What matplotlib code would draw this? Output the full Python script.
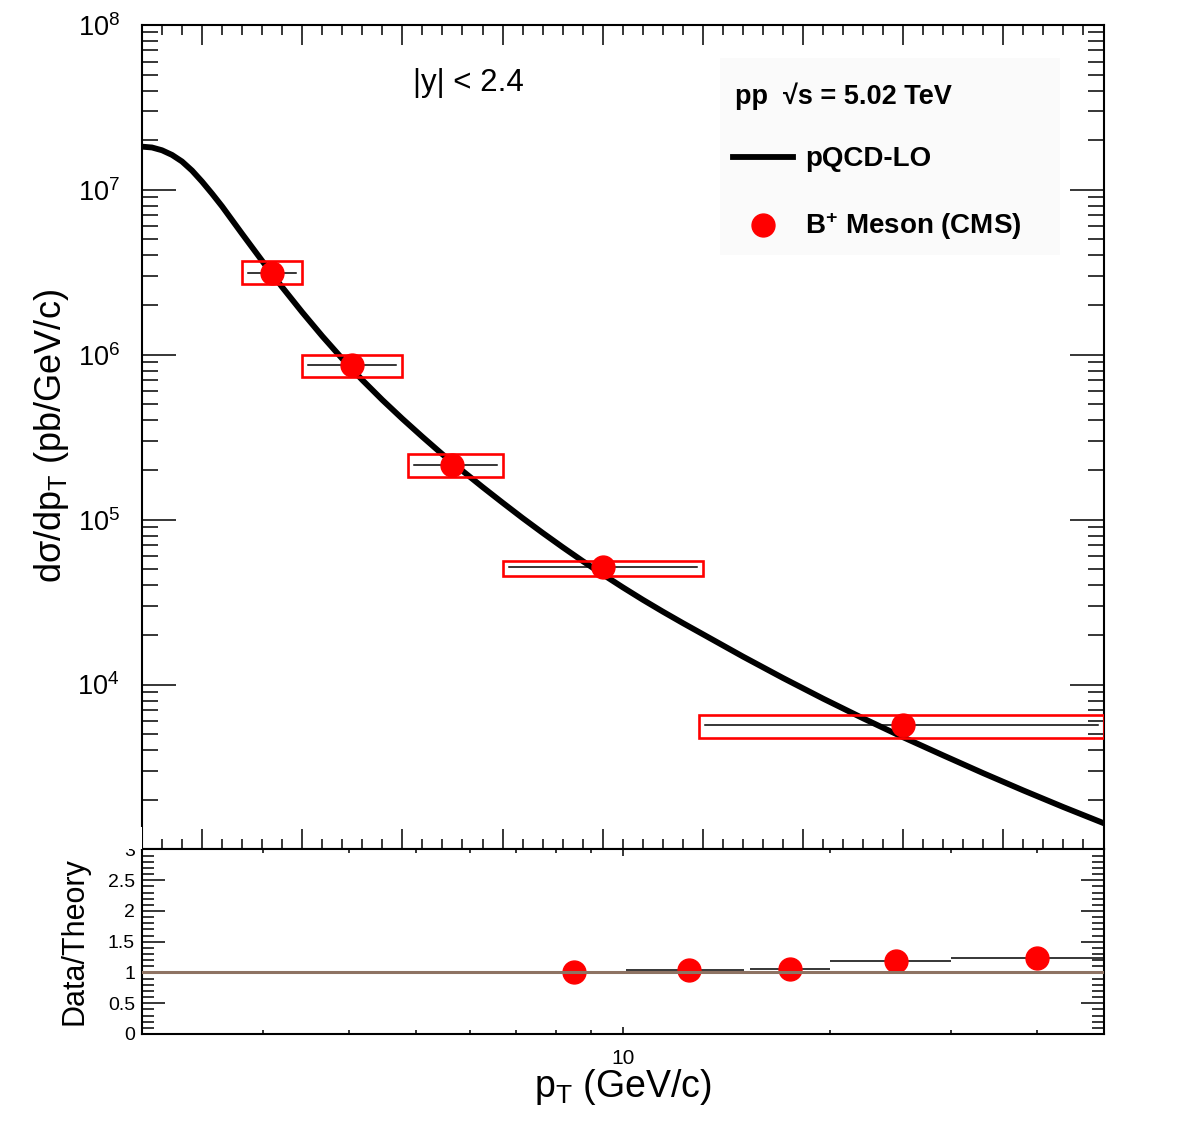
import numpy as np
import matplotlib
matplotlib.use('Agg')
import matplotlib.pyplot as plt
from matplotlib.patches import Rectangle
from matplotlib.ticker import MultipleLocator, FixedLocator, FixedFormatter, NullFormatter, LogLocator

# --- font setup (ROOT look, Helvetica-like) ---
plt.rcParams['font.family'] = ['Liberation Sans', 'DejaVu Sans']
plt.rcParams['mathtext.fontset'] = 'custom'
plt.rcParams['mathtext.rm'] = 'Liberation Sans'
plt.rcParams['mathtext.it'] = 'Liberation Sans:italic'
plt.rcParams['mathtext.bf'] = 'Liberation Sans:bold'

# --- theory curve (pQCD-LO) ---
theory_pt = [2, 2.5, 3, 3.5, 4, 4.5, 5, 5.5, 6, 7, 8, 9, 10, 11, 12, 13, 14, 15, 16, 17, 18,
             19, 20, 21, 22, 23, 24, 25, 26, 27, 28, 29, 30, 32, 34, 36, 38, 40, 42, 44, 46,
             48, 50]
theory_xsec = [1.828e7, 1.807e7, 1.738e7, 1.629e7, 1.486e7, 1.309e7, 1.122e7, 9.48e6, 7.94e6,
               5.41e6, 3.71e6, 2.57e6, 1.811e6, 1.297e6, 9.46e5, 7.03e5, 5.32e5, 4.09e5,
               3.18e5, 2.49e5, 1.977e5, 1.578e5, 1.268e5, 1.023e5, 8.32e4, 6.81e4, 5.61e4,
               4.66e4, 3.89e4, 3.27e4, 2.77e4, 2.36e4, 2.02e4, 1.479e4, 1.096e4, 8.22e3,
               6.24e3, 4.79e3, 3.72e3, 2.90e3, 2.28e3, 1.807e3, 1.445e3]

# --- B+ meson data (CMS) ---
pt_c = [8.5, 12.5, 17.5, 25, 40]
pt_lo = [7, 10, 15.3, 20, 29.8]
pt_hi = [10, 15, 20, 30, 50]
xsec = [3.15e6, 8.7e5, 2.15e5, 5.15e4, 5.65e3]
sys_lo = [2.69e6, 7.3e5, 1.82e5, 4.58e4, 4.75e3]
sys_hi = [3.68e6, 1.0e6, 2.5e5, 5.65e4, 6.52e3]

# --- data / theory ---
ratio = [1.0, 1.04, 1.05, 1.18, 1.24]
ratio_lo = [7, 10.1, 15.3, 20, 30]
ratio_hi = [10, 15, 20, 30, 50]

RED = '#ff0000'
BROWN = '#8e7363'

fig = plt.figure(figsize=(11.82, 11.34), dpi=100)
ax = fig.add_axes([0.1201, 0.2509, 0.8135, 0.7271])
axr = fig.add_axes([0.1201, 0.0882, 0.8135, 0.1627])

# ---------------- top panel ----------------
ax.set_yscale('log')
ax.set_xlim(2, 50)
ax.set_ylim(1e3, 1e8)

ax.plot(theory_pt, theory_xsec, color='black', lw=4.2, zorder=2, solid_joinstyle='round')
for lo, hi, ylo, yhi, y in zip(pt_lo, pt_hi, sys_lo, sys_hi, xsec):
    ax.add_patch(Rectangle((lo, ylo), hi - lo, yhi - ylo, fill=False,
                           edgecolor=RED, lw=1.9, zorder=3))
    ax.plot([lo + 0.3, hi - 0.3], [y, y], color='black', lw=1.1, zorder=3)
ax.plot(pt_c, xsec, 'o', color=RED, ms=16.5, zorder=4)

ax.xaxis.set_major_locator(MultipleLocator(5))
ax.xaxis.set_minor_locator(MultipleLocator(1))
ax.xaxis.set_major_formatter(NullFormatter())
ax.yaxis.set_major_locator(FixedLocator([1e4, 1e5, 1e6, 1e7, 1e8]))
ax.yaxis.set_minor_locator(LogLocator(base=10, subs=np.arange(2, 10), numticks=20))
ax.yaxis.set_minor_formatter(NullFormatter())
ax.tick_params(which='both', direction='in', top=True, right=True, width=1.1)
ax.tick_params(axis='x', which='major', length=14.4)
ax.tick_params(axis='x', which='minor', length=7.2)
ax.tick_params(axis='y', which='major', length=24.5, labelsize=19.5, pad=16)
ax.tick_params(axis='y', which='minor', length=11.5)
for sp in ax.spines.values():
    sp.set_linewidth(1.5)

ax.text(0.339, 0.930, '|y| < 2.4', transform=ax.transAxes, ha='center', va='center', fontsize=22.5)

# legend box
ax.add_patch(Rectangle((0.601, 0.721), 0.354, 0.239, transform=ax.transAxes,
                       facecolor='#fafafa', edgecolor='none', zorder=1))
ax.text(0.617, 0.914, 'pp  \u221as = 5.02 TeV', transform=ax.transAxes, ha='left', va='center',
        fontsize=19.5, fontweight='bold', zorder=5)
ax.plot([0.615, 0.677], [0.840, 0.840], transform=ax.transAxes, color='black', lw=4.2, zorder=5)
ax.text(0.690, 0.837, 'pQCD-LO', transform=ax.transAxes, ha='left', va='center',
        fontsize=20, fontweight='bold', zorder=5)
ax.plot([0.646], [0.757], 'o', transform=ax.transAxes, color=RED, ms=16.5, zorder=5)
ax.text(0.690, 0.756, r'B$^{\mathbf{+}}$ Meson (CMS)', transform=ax.transAxes, ha='left',
        va='center', fontsize=20, fontweight='bold', zorder=5)

# ---------------- ratio panel ----------------
axr.set_xscale('log')
axr.set_xlim(2, 50)
axr.set_ylim(0, 3)

axr.hlines(ratio, ratio_lo, ratio_hi, color='black', lw=1.1, zorder=2)
axr.plot(pt_c, ratio, 'o', color=RED, ms=16.5, zorder=3)
axr.axhline(1.0, color=BROWN, lw=2.2, zorder=4)

axr.xaxis.set_major_locator(FixedLocator([10]))
axr.xaxis.set_major_formatter(FixedFormatter(['10']))
axr.xaxis.set_minor_locator(FixedLocator([3, 4, 5, 6, 7, 8, 9, 20, 30, 40]))
axr.xaxis.set_minor_formatter(NullFormatter())
axr.yaxis.set_major_locator(FixedLocator([0, 0.5, 1, 1.5, 2, 2.5, 3]))
axr.yaxis.set_major_formatter(FixedFormatter(['0', '0.5', '1', '1.5', '2', '2.5', '3']))
axr.yaxis.set_minor_locator(MultipleLocator(0.1))
axr.tick_params(which='both', direction='in', top=True, right=True, width=1.1)
axr.tick_params(axis='x', which='major', length=5, labelsize=15, pad=11)
axr.tick_params(axis='x', which='minor', length=3)
axr.tick_params(axis='y', which='major', length=16.5, labelsize=14, pad=5)
axr.tick_params(axis='y', which='minor', length=8.5)
for sp in axr.spines.values():
    sp.set_linewidth(1.5)

# white cover hiding the upper half of the "3" label (ROOT pad overlap)
fig.add_artist(Rectangle((0.06, 0.2509), 0.06, 0.02, transform=fig.transFigure,
                         facecolor='white', edgecolor='none', zorder=10))

# axis titles
fig.text(52 / 1182, 1 - 436 / 1134, 'd\u03c3/dp$_{\\mathrm{T}}$ (pb/GeV/c)', rotation=90,
         ha='center', va='center', fontsize=26)
fig.text(74 / 1182, 1 - 941 / 1134, 'Data/Theory', rotation=90,
         ha='center', va='center', fontsize=22)
fig.text(623 / 1182, 1 - 1087 / 1134, 'p$_{\\mathrm{T}}$ (GeV/c)',
         ha='center', va='center', fontsize=27)

fig.savefig('out.png', dpi=100, facecolor='white')
